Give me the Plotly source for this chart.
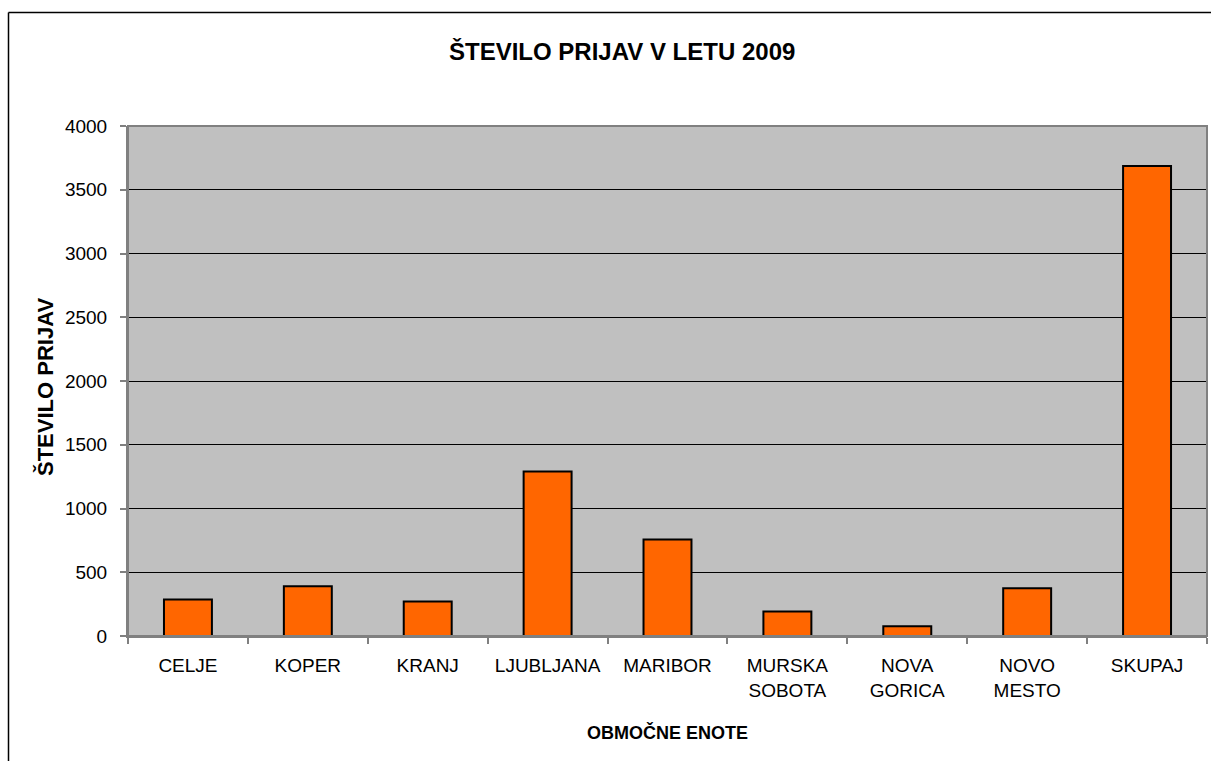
import plotly.graph_objects as go

categories = ["CELJE", "KOPER", "KRANJ", "LJUBLJANA", "MARIBOR",
              "MURSKA<br>SOBOTA", "NOVA<br>GORICA", "NOVO<br>MESTO", "SKUPAJ"]
values = [286, 390, 270, 1291, 756, 192, 77, 375, 3687]
y_ticks = [0, 500, 1000, 1500, 2000, 2500, 3000, 3500, 4000]

W, H = 1211, 761
L, R, T, B = 128, 4, 126, 125
pw, ph = W - L - R, H - T - B

def px(x):
    return (x - L) / pw

def py(y):
    return (H - B - y) / ph

fig = go.Figure(go.Bar(
    x=categories, y=values,
    marker=dict(color="#FF6600", line=dict(color="#000000", width=2)),
    width=0.4,
))

fig.update_layout(
    width=W, height=H,
    margin=dict(l=L, r=R, t=T, b=B),
    paper_bgcolor="white",
    plot_bgcolor="#C0C0C0",
    showlegend=False,
    font=dict(family="Arial, Liberation Sans, sans-serif", size=19, color="black"),
    xaxis=dict(
        type="category",
        showgrid=False,
        ticks="outside", ticklen=6, tickcolor="#808080", tickwidth=2,
        tickson="boundaries",
        showline=True, linecolor="#808080", linewidth=2,
        ticklabelstandoff=11,
        tickfont=dict(size=19),
    ),
    yaxis=dict(
        range=[0, 4000],
        tickvals=y_ticks,
        showgrid=True, gridcolor="#000000", gridwidth=1,
        zeroline=False,
        ticks="outside", ticklen=6, tickcolor="#808080", tickwidth=2,
        showline=True, linecolor="#808080", linewidth=2,
        tickfont=dict(size=19),
        ticklabelstandoff=9,
    ),
    annotations=[
        dict(text="<b>ŠTEVILO PRIJAV V LETU 2009</b>", x=px(622), y=py(51),
             xref="paper", yref="paper", showarrow=False,
             font=dict(size=24), xanchor="center", yanchor="middle"),
        dict(text="<b>ŠTEVILO PRIJAV</b>", x=px(45), y=py(387),
             xref="paper", yref="paper", showarrow=False, textangle=-90,
             font=dict(size=22), xanchor="center", yanchor="middle"),
        dict(text="<b>OBMOČNE ENOTE</b>", x=px(667), y=py(732),
             xref="paper", yref="paper", showarrow=False,
             font=dict(size=18), xanchor="center", yanchor="middle"),
    ],
    shapes=[
        dict(type="line", xref="paper", yref="paper",
             x0=px(8.5), x1=px(8.5), y0=py(12.5), y1=py(770),
             line=dict(color="black", width=1.5)),
        dict(type="line", xref="paper", yref="paper",
             x0=px(8.5), x1=px(1220), y0=py(12.5), y1=py(12.5),
             line=dict(color="black", width=1.5)),
        dict(type="rect", xref="paper", yref="paper",
             x0=0, x1=1, y0=0, y1=1,
             line=dict(color="#808080", width=2), layer="above"),
    ],
)

fig.write_html("out.html", config={"displayModeBar": False},
               post_script="document.body.style.margin='0';")
